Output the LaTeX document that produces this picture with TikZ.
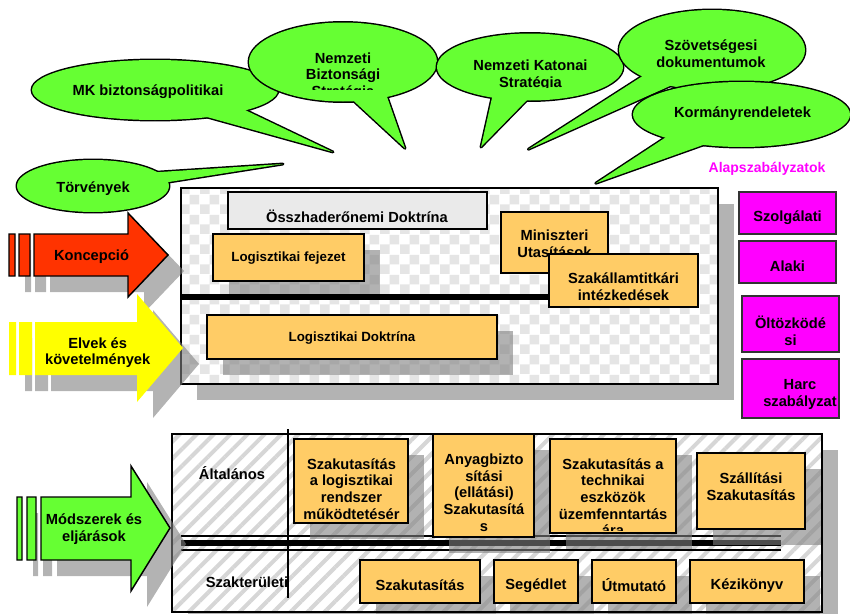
\documentclass[tikz,border=0pt]{standalone}
\usepackage{fontspec}
\setmainfont{Liberation Sans}
\usetikzlibrary{shadows,patterns,patterns.meta}

\definecolor{zold}{HTML}{66FF33}
\definecolor{narancs}{HTML}{FFCC66}
\definecolor{bibor}{HTML}{FF00FF}
\definecolor{piros}{HTML}{FF3300}
\definecolor{sarga}{HTML}{FFFF00}
\definecolor{vilagos}{HTML}{EAEAEA}

\tikzdeclarepattern{
  name=kockas,
  bottom left={(0pt,0pt)},
  top right={(15pt,15pt)},
  tile size={(15pt,15pt)},
  code={
    \pgfpathrectangle{\pgfpointorigin}{\pgfpoint{7.5pt}{7.5pt}}
    \pgfpathrectangle{\pgfpoint{7.5pt}{7.5pt}}{\pgfpoint{7.5pt}{7.5pt}}
    \pgfusepath{fill}
  }
}

\begin{document}
\begin{tikzpicture}[x=0.75pt, y=-0.75pt,
    every node/.style={font=\bfseries\fontsize{11}{12.5}\selectfont, align=center, inner sep=0pt},
    kicsi/.style={font=\bfseries\fontsize{10}{12}\selectfont},
    felho/.style={draw, fill=zold, line width=2.2pt, line join=round},
    arnyek/.style={drop shadow={shadow xshift=12pt, shadow yshift=-12pt, fill=black!50, opacity=.6}},
    kasten/.style={draw, fill=narancs, line width=1.1pt},
    szurke/.style={draw, fill=vilagos, line width=1.1pt},
    lila/.style={draw=black!80, fill=bibor, line width=1.5pt},
    nyil/.style={draw, line width=1.1pt, line join=miter},
    felso/.style={draw, line width=1.1pt, preaction={fill=white}, pattern=kockas, pattern color=black!10},
    also/.style={draw, line width=1.1pt, preaction={fill=white},
      pattern={Lines[angle=45,distance=9pt,line width=3pt]}, pattern color=black!16}]

\useasboundingbox (0,0) rectangle (850,614);

% Callouts (tail + ellipse, outline then refill)
\foreach \cx/\cy/\rx/\ry/\ax/\ay/\bx/\by/\tx/\ty in {93/186/76/26/141.6/173.2/151.9/184.7/283/164,
    155/90/123/30/194.4/113.5/231.8/103.7/333/152,
    343/62/94/39.5/344/92/384.3/89/405/148.3,
    530/67/93/33.5/493.6/90.6/533.9/93/481/147,
    712/50/93/40/657.9/66.2/687.8/78/528.3/149.3,
    741.5/114.5/108.5/32.5/677.3/129.7/713.7/141.2/595.7/183.3}{
  \draw[felho] (\ax,\ay) -- (\tx,\ty) -- (\bx,\by) -- cycle;
  \draw[felho] (\cx,\cy) ellipse [x radius=\rx*0.75pt, y radius=\ry*0.75pt];
  \fill[zold] (\ax,\ay) -- (\tx,\ty) -- (\bx,\by) -- cycle;
  \fill[zold] (\cx,\cy) ellipse [x radius=\rx*0.75pt, y radius=\ry*0.75pt];
}

\node (torveny) at (93,189) {Törvények};
\node (mk) at (148,92) {MK biztonságpolitikai};
\begin{scope}
  \clip (250,20) rectangle (436,89.5);
  \node (nbs) at (343,76) {Nemzeti\\Biztonsági\\Stratégia};
\end{scope}
\begin{scope}
  \clip (440,30) rectangle (620,87.5);
  \node (nks) at (530.5,75.5) {Nemzeti Katonai\\Stratégia};
\end{scope}
\node (szov) at (711,53.5) {Szövetségesi\\dokumentumok};
\node (korm) at (742.5,114) {Kormányrendeletek};

% Upper panel
\draw[arnyek, felso] (181,188) rectangle (718,384);
\draw[szurke] (228,192) rectangle (487,229);
\node (ossz) at (357,216) {Összhaderőnemi Doktrína};
\draw[kasten, arnyek] (213,234) rectangle (364,281);
\node[kicsi] (logfej) at (288.5,258) {Logisztikai fejezet};
\draw[kasten, arnyek] (207,315) rectangle (497,359);
\node[kicsi] (logdok) at (352,338) {Logisztikai Doktrína};
\draw[line width=4.5pt] (181,297) -- (549,297);
\draw[kasten] (501,212) rectangle (608,273);
\node (minis) at (554.5,244) {Miniszteri\\Utasítások};
\draw[kasten] (549,254) rectangle (698,307);
\node (szak) at (623.5,287) {Szakállamtitkári\\intézkedések};

% Alapszabalyzatok
\node[font=\bfseries\fontsize{10.5}{12}\selectfont, text=bibor] (alap) at (767,168.5) {Alapszabályzatok};
\draw[lila] (739,192) rectangle (836,234);
\node (szolg) at (787.5,217.5) {Szolgálati};
\draw[lila] (739,241) rectangle (836,283);
\node (alaki) at (787.5,266.5) {Alaki};
\draw[lila] (742,296) rectangle (839,352);
\node (oltoz) at (790.5,330.5) {Öltözködé\\si};
\draw[lila] (742,359) rectangle (839,418);
\node (harc) at (800,394.5) {Harc\\szabályzat};

% Lower panel
\draw[arnyek, also] (172,434) rectangle (822,612);
\draw[line width=1.1pt] (288,429) -- (288,598);
\draw[line width=1.5pt] (181,536) -- (781,536);
\draw[line width=4.5pt] (181,543) -- (781,543);
\draw[line width=1.5pt] (181,550) -- (781,550);
\node (altal) at (232,473.5) {Általános};
\node (szakter) at (247,582) {Szakterületi};

\draw[kasten, arnyek] (294,439) rectangle (408,523);
\node (logrend) at (351.5,489) {Szakutasítás\\a logisztikai\\rendszer\\működtetésér};
\draw[kasten, arnyek] (433,434) rectangle (534,537);
\node (anyag) at (484,492.7) {Anyagbizto\\sítási\\(ellátási)\\Szakutasítá\\s};
\draw[kasten, arnyek] (550,439) rectangle (676,533);
\begin{scope}
  \clip (550,439) rectangle (676,530.5);
  \node (techn) at (613,497.3) {Szakutasítás a\\technikai\\eszközök\\üzemfenntartás\\ára};
\end{scope}
\draw[kasten, arnyek] (697,453) rectangle (805,529);
\node (szall) at (751,486.7) {Szállítási\\Szakutasítás};

\draw[kasten, arnyek] (360,560) rectangle (480,603);
\node (szakut) at (420,585.5) {Szakutasítás};
\draw[kasten, arnyek] (494,560) rectangle (578,603);
\node (segedlet) at (536,585.5) {Segédlet};
\draw[kasten, arnyek] (592,560) rectangle (676,603);
\node (utmutato) at (634,585.5) {Útmutató};
\draw[kasten, arnyek] (690,560) rectangle (804,603);
\node (kezikonyv) at (747,585.5) {Kézikönyv};
\draw[line width=1.1pt] (172,612) -- (822,612);

% Arrows
\draw[nyil, fill=piros, arnyek] (9,234) rectangle (15,276) (19,234) rectangle (30,276)
  (34,234) -- (128,234) -- (128,213) -- (168,255) -- (128,297) -- (128,276) -- (34,276) -- cycle;
\node (koncepcio) at (91.5,257) {Koncepció};
\path[fill=sarga, arnyek] (9,322) rectangle (16,375) (19,322) rectangle (32,375)
  (35,322) -- (137,322) -- (137,294) -- (183,348) -- (137,402) -- (137,375) -- (35,375) -- cycle;
\node (elvek) at (97.7,352.7) {Elvek és\\követelmények};
\draw[nyil, fill=zold, arnyek] (17,497) rectangle (22,560) (27,497) rectangle (36,560)
  (41,497) -- (131,497) -- (131,466) -- (170,528) -- (131,591) -- (131,560) -- (41,560) -- cycle;
\node (modszer) at (94,529) {Módszerek és\\eljárások};

\end{tikzpicture}
\end{document}
